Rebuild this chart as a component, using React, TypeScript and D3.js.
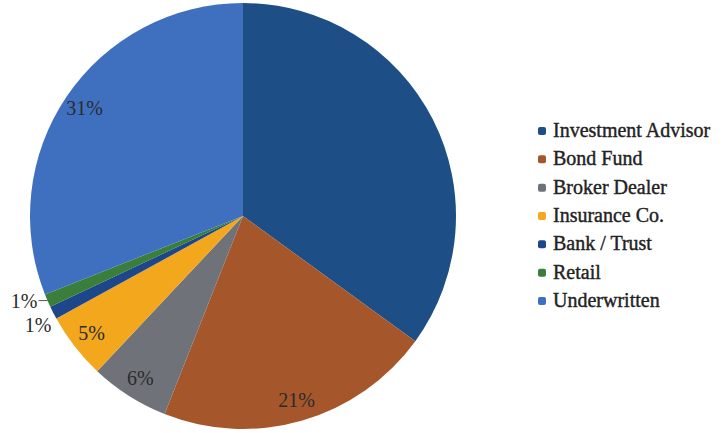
import React from "react";
import * as d3 from "d3";

const categories = ["Investment Advisor", "Bond Fund", "Broker Dealer", "Insurance Co.", "Bank / Trust", "Retail", "Underwritten"];
const values = [35, 21, 6, 5, 1, 1, 31];
const labels = ["", "21%", "6%", "5%", "1%", "1%", "31%"];
const labelModes = ["none", "inside", "inside", "inside", "outside", "leader", "inside"];
const colors = ["#1d4f86", "#a5572b", "#6f7379", "#f2a71d", "#1e468a", "#3b7e3c", "#3f70c0"];

const W = 724;
const H = 433;
const cx = 243;
const cy = 216;
const R = 213;
const FONT = "Liberation Serif, Times New Roman, serif";
const textStyle = { fontFamily: FONT };

export default function App() {
  const data = categories.map((c, i) => ({ c, v: values[i], label: labels[i], mode: labelModes[i], color: colors[i] }));
  const pie = d3.pie<any>().value((d) => d.v).sort(null).startAngle(0).endAngle(2 * Math.PI);
  const arcs = pie(data);
  const arc = d3.arc<any>().innerRadius(0).outerRadius(R);
  const inArc = d3.arc<any>().innerRadius(R * 0.9).outerRadius(R * 0.9);
  const outArc = d3.arc<any>().innerRadius(R * 1.08).outerRadius(R * 1.08);
  const edgeArc = d3.arc<any>().innerRadius(R).outerRadius(R);

  const legendY = d3.scaleLinear().domain([0, categories.length - 1]).range([130, 300]);

  return (
    <svg width={W} height={H} style={{ position: "absolute", left: 0, top: 0, background: "#fff" }}>
      <g transform={`translate(${cx},${cy})`}>
        {arcs.map((a, i) => (
          <path key={i} d={arc(a) as string} fill={a.data.color} />
        ))}
        {arcs.map((a, i) => {
          const d = a.data;
          if (d.mode === "inside") {
            const [x, y] = inArc.centroid(a);
            return (
              <text key={"l" + i} x={x} y={y} textAnchor="middle" dominantBaseline="central" fontSize={20} fill="#2b2b2b" style={textStyle}>
                {d.label}
              </text>
            );
          }
          if (d.mode === "outside") {
            const [x, y] = outArc.centroid(a);
            return (
              <text key={"l" + i} x={x} y={y + 5} textAnchor="middle" dominantBaseline="central" fontSize={20} fill="#2b2b2b" style={textStyle}>
                {d.label}
              </text>
            );
          }
          if (d.mode === "leader") {
            const [ex, ey] = edgeArc.centroid(a);
            return (
              <g key={"l" + i}>
                <line x1={ex} y1={ey} x2={ex - 9} y2={ey} stroke="#555" strokeWidth={1} />
                <text x={ex - 10} y={ey} textAnchor="end" dominantBaseline="central" fontSize={20} fill="#2b2b2b" style={textStyle}>
                  {d.label}
                </text>
              </g>
            );
          }
          return null;
        })}
      </g>
      <g>
        {data.map((d, i) => (
          <g key={"lg" + i} transform={`translate(538,${legendY(i)})`}>
            <rect x={0} y={-3} width={8} height={8} rx={2} fill={d.color} />
            <text x={15} y={0} dominantBaseline="central" fontSize={20} fill="#222" stroke="#222" strokeWidth={0.4} style={textStyle}>
              {d.c}
            </text>
          </g>
        ))}
      </g>
    </svg>
  );
}
